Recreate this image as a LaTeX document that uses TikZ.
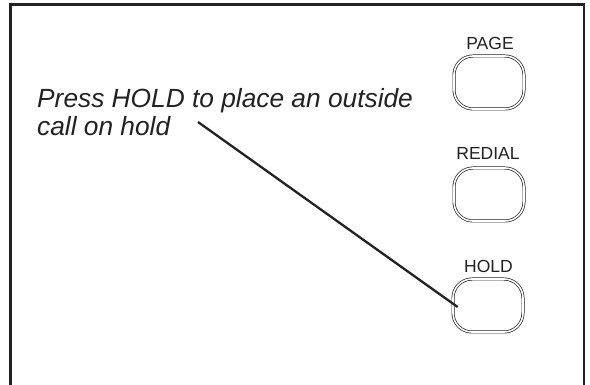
\documentclass[tikz,border=0pt]{standalone}
\usepackage{fontspec}
\setmainfont{Liberation Sans}
\usetikzlibrary{calc}
\definecolor{ink}{HTML}{222222}
\begin{document}
\begin{tikzpicture}[x=1pt,y=-1pt,
  frameline/.style={draw=ink,line width=2.5pt},
  btn/.style={draw=ink,line width=0.7pt,double=white,double distance=1.6pt,
    rounded corners=19pt,minimum width=70pt,minimum height=53pt,inner sep=0pt},
  btnlabel/.style={font=\fontsize{17.5}{19}\selectfont,text=ink,inner sep=0pt},
  callout/.style={font=\fontsize{26.3}{27.5}\selectfont\itshape,text=ink,align=left,inner sep=0pt},
  leader/.style={draw=ink,line width=2.3pt}]
\useasboundingbox (0,0) rectangle (590,385);
\fill[white] (0,0) rectangle (590,385);
% frame (open at the bottom)
\coordinate (fbl) at (10.7,386);
\coordinate (ftl) at (10.7,4.3);
\coordinate (ftr) at (584,4.3);
\coordinate (fbr) at (584,386);
\draw[frameline] (fbl) -- (ftl) -- (ftr) -- (fbr);
% buttons
\node[btn] (page) at (489,82.5) {};
\node[btn] (redial) at (489,194.5) {};
\node[btn] (hold) at (488,305.5) {};
\node[btnlabel] (pagel) at (490,43) {PAGE};
\node[btnlabel] (rediall) at (488,153) {REDIAL};
\node[btnlabel] (holdl) at (488.5,266) {HOLD};
% callout text
\node[callout,anchor=base west] (txt) at (37,135.5) {Press HOLD to place an outside\\call on hold};
\coordinate (cstart) at (198,122);
\draw[leader] (cstart) -- ([shift={(5,1.5)}]hold.west);
\end{tikzpicture}
\end{document}
